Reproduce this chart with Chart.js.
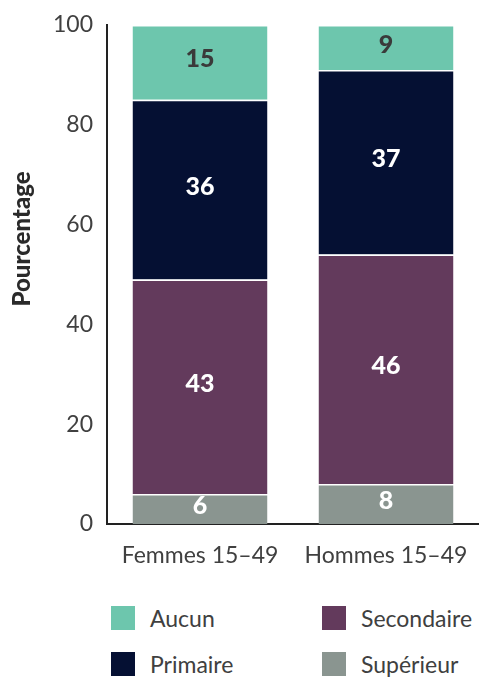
<!DOCTYPE html>
<html>
<head>
<meta charset="utf-8">
<script src="https://cdn.jsdelivr.net/npm/chart.js@4"></script>
<style>
  body { margin: 0; background: #fff; font-family: 'Lato', sans-serif; }
  #wrap { position: relative; width: 479px; height: 677px; }
  #chartBox { position: absolute; left: 0; top: 0; width: 479px; height: 580px; }
  #legend { position: absolute; left: 111px; top: 606px; width: 368px;
            display: grid; grid-template-columns: 211px 157px; row-gap: 22px; }
  .leg-item { display: flex; align-items: center; height: 24px; color: #404040; font-size: 23px; white-space: nowrap; }
  .leg-box { width: 24px; height: 24px; margin-right: 15px; flex: none; }
</style>
</head>
<body>
<div id="wrap">
  <div id="chartBox"><canvas id="chart"></canvas></div>
  <div id="legend"></div>
</div>
<script>
// Données
const categories = ['Femmes 15–49', 'Hommes 15–49'];
const superieur = [6, 8];
const secondaire = [43, 46];
const primaire = [36, 37];
const aucun = [15, 9];
const yTicks = [0, 20, 40, 60, 80, 100];

const FONT = "'Lato', sans-serif";

const series = [
    { label: 'Supérieur', data: superieur, color: '#8A9590', text: '#ffffff' },
    { label: 'Secondaire', data: secondaire, color: '#633A5C', text: '#ffffff' },
    { label: 'Primaire', data: primaire, color: '#051033', text: '#ffffff' },
    { label: 'Aucun', data: aucun, color: '#6DC6AD', text: '#3a3a3a' }
];

// Étiquettes des valeurs au centre des segments
const valueLabels = {
    id: 'valueLabels',
    afterDatasetsDraw(chart) {
        const ctx = chart.ctx;
        ctx.save();
        ctx.font = '900 25px ' + FONT;
        ctx.textAlign = 'center';
        ctx.textBaseline = 'middle';
        chart.data.datasets.forEach((ds, i) => {
            const meta = chart.getDatasetMeta(i);
            meta.data.forEach((bar, j) => {
                ctx.fillStyle = series[i].text;
                ctx.fillText(ds.data[j], bar.x, (bar.y + bar.base) / 2 - 3);
            });
        });
        ctx.restore();
    }
};

// Titre de l'axe Y
const yTitle = {
    id: 'yTitle',
    afterDraw(chart) {
        const ctx = chart.ctx;
        ctx.save();
        ctx.translate(22, 239);
        ctx.rotate(-Math.PI / 2);
        ctx.font = '900 24px ' + FONT;
        ctx.fillStyle = '#2a2a2a';
        ctx.textAlign = 'center';
        ctx.textBaseline = 'middle';
        ctx.fillText('Pourcentage', 0, 0);
        ctx.restore();
    }
};

new Chart(document.getElementById('chart').getContext('2d'), {
    type: 'bar',
    data: {
        labels: categories,
        datasets: series.map(s => ({
            label: s.label,
            data: s.data,
            backgroundColor: s.color,
            borderColor: '#ffffff',
            borderWidth: { top: 1.5, bottom: 0, left: 0, right: 0 },
            borderSkipped: false,
            barPercentage: 0.8,
            categoryPercentage: 0.907
        }))
    },
    options: {
        responsive: true,
        maintainAspectRatio: false,
        animation: false,
        layout: { padding: { top: 25, right: 0, left: 0, bottom: 0 } },
        plugins: {
            legend: { display: false },
            tooltip: { enabled: false }
        },
        scales: {
            x: {
                stacked: true,
                grid: { display: false, drawTicks: false },
                border: { display: true, color: '#222', width: 2 },
                ticks: { color: '#404040', font: { family: FONT, size: 23 }, padding: 18, maxRotation: 0 },
                afterFit: scale => {
                    scale.height = 56;
                    scale.paddingLeft = 0;
                    scale.paddingRight = 0;
                }
            },
            y: {
                stacked: true,
                min: 0,
                max: 100,
                grid: { display: false, drawTicks: false },
                border: { display: true, color: '#222', width: 2 },
                afterBuildTicks: scale => { scale.ticks = yTicks.map(v => ({ value: v })); },
                ticks: { color: '#404040', font: { family: FONT, size: 23 }, padding: 14 },
                afterFit: scale => {
                    scale.width = 107;
                    scale.paddingTop = 0;
                    scale.paddingBottom = 0;
                }
            }
        }
    },
    plugins: [valueLabels, yTitle]
});

// Légende HTML (2 colonnes)
const legendOrder = ['Aucun', 'Secondaire', 'Primaire', 'Supérieur'];
const legendEl = document.getElementById('legend');
legendOrder.forEach(name => {
    const s = series.find(x => x.label === name);
    const item = document.createElement('div');
    item.className = 'leg-item';
    item.innerHTML = '<span class="leg-box" style="background:' + s.color + '"></span>' + s.label;
    legendEl.appendChild(item);
});
</script>
</body>
</html>
